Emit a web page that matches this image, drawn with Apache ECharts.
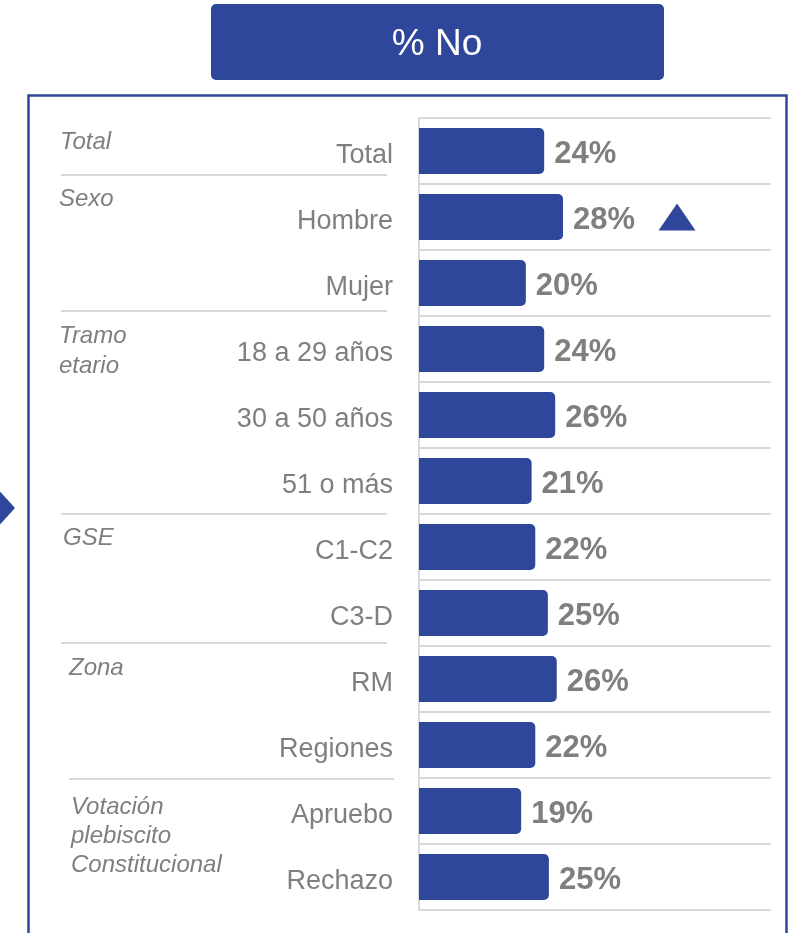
<!DOCTYPE html>
<html>
<head>
<meta charset="utf-8">
<title>% No</title>
<script src="https://cdn.jsdelivr.net/npm/echarts@6/dist/echarts.min.js"></script>
<style>
  html, body { margin: 0; padding: 0; background: #fff; }
  #chart { width: 795px; height: 933px; }
</style>
</head>
<body>
<div id="chart"></div>
<script>
// datos
const categories = ['Total', 'Hombre', 'Mujer', '18 a 29 años', '30 a 50 años', '51 o más',
  'C1-C2', 'C3-D', 'RM', 'Regiones', 'Apruebo', 'Rechazo']
const values = [23.9, 27.5, 20.4, 23.9, 26.0, 21.5, 22.2, 24.6, 26.3, 22.2, 19.5, 24.8]
const pctLabels = ['24%', '28%', '20%', '24%', '26%', '21%', '22%', '25%', '26%', '22%', '19%', '25%']
const groupNames = [['Total'], ['Sexo'], ['Tramo', 'etario'], ['GSE'], ['Zona'], ['Votación', 'plebiscito', 'Constitucional']]
const upMarks = ['Hombre'] // alza significativa

const blue = '#2F479B'
const gray = '#7F7F7F'
const lineGray = '#D9D9D9'
const font = '"Liberation Sans", Arial, sans-serif'

const chart = echarts.init(document.getElementById('chart'))

// posiciones de los textos de grupo (x, baseline de la 1a linea, interlineado)
const groupPos = [
  [60, 150, 0],
  [59, 207, 0],
  [59, 344, 30],
  [63, 546, 0],
  [69, 676, 0],
  [71, 815, 29]
]
const sepLines = [[61, 387, 175], [61, 387, 311], [61, 387, 514], [61, 387, 643], [69, 394, 779]]

let graphic = [
  {
    type: 'rect',
    shape: { x: 211, y: 4, width: 453, height: 76, r: 5 },
    style: { fill: blue }
  },
  {
    type: 'text',
    x: 437, y: 45,
    style: { text: '% No', fill: '#fff', font: '37px ' + font, align: 'center', verticalAlign: 'middle' }
  },
  {
    type: 'rect',
    shape: { x: 28.5, y: 95.5, width: 758, height: 880 },
    style: { fill: 'none', stroke: blue, lineWidth: 2.5 }
  },
  {
    type: 'polygon',
    shape: { points: [[-4, 487], [15, 508], [-4, 529]] },
    style: { fill: blue }
  }
]

groupNames.forEach((lines, i) => {
  const p = groupPos[i]
  lines.forEach((t, j) => {
    graphic.push({
      type: 'text',
      x: p[0],
      y: p[1] + j * p[2] - 8,
      style: { text: t, fill: gray, font: 'italic 24px ' + font, align: 'left', verticalAlign: 'middle' }
    })
  })
})

sepLines.forEach((s) => {
  graphic.push({
    type: 'line',
    shape: { x1: s[0], y1: s[2], x2: s[1], y2: s[2] },
    style: { stroke: lineGray, lineWidth: 2 }
  })
})

const option = {
  animation: false,
  backgroundColor: '#fff',
  grid: {
    left: 419,
    right: 24,
    top: 118,
    height: 792,
    containLabel: false
  },
  xAxis: {
    type: 'value',
    min: 0,
    max: 67.2,
    show: false
  },
  yAxis: {
    type: 'category',
    inverse: true,
    data: categories,
    axisLine: { show: true, lineStyle: { color: lineGray, width: 2 } },
    axisTick: { show: false },
    splitLine: { show: true, lineStyle: { color: lineGray, width: 2 } },
    axisLabel: {
      margin: 26,
      formatter: (v) => `{a|${v}}`,
      rich: {
        a: {
          color: gray,
          fontSize: 27,
          fontFamily: font,
          padding: [9, 0, 0, 0]
        }
      }
    }
  },
  series: [
    {
      type: 'bar',
      data: values,
      barWidth: 46,
      itemStyle: {
        color: blue,
        borderRadius: [0, 5, 5, 0]
      },
      label: {
        show: true,
        position: 'right',
        distance: 10,
        offset: [0, 3],
        color: gray,
        fontSize: 31,
        fontWeight: 'bold',
        fontFamily: font,
        formatter: (p) => pctLabels[p.dataIndex]
      },
      markPoint: {
        symbol: 'triangle',
        symbolSize: [37, 27],
        symbolOffset: [114, 0],
        itemStyle: { color: blue },
        label: { show: false },
        data: upMarks.map((c) => ({ coord: [values[categories.indexOf(c)], c] }))
      }
    }
  ],
  graphic: graphic
}

chart.setOption(option)
</script>
</body>
</html>
